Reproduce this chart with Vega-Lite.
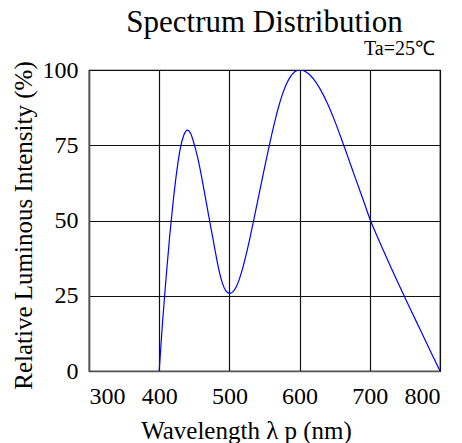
{
  "$schema": "https://vega.github.io/schema/vega-lite/v6.json",
  "width": 351,
  "height": 301,
  "autosize": {"type": "none"},
  "padding": {"left": 89, "top": 70, "right": 22, "bottom": 72},
  "background": "white",
  "config": {
    "font": "Liberation Serif",
    "view": {"stroke": "#000", "strokeWidth": 1.2},
    "title": {"font": "Liberation Serif", "fontSize": 31, "fontWeight": "normal", "color": "#000", "baseline": "alphabetic", "frame": "group"},
    "axis": {
      "labelFont": "Liberation Serif",
      "titleFont": "Liberation Serif",
      "labelColor": "#000",
      "titleColor": "#000",
      "titleFontWeight": "normal",
      "grid": true,
      "gridColor": "#111",
      "gridWidth": 1.2,
      "gridOpacity": 1,
      "ticks": false,
      "domainColor": "#555",
      "domainWidth": 1.5
    }
  },
  "title": {"text": "Spectrum Distribution", "anchor": "middle", "offset": 0, "frame": "group"},
  "layer": [
    {
      "data": {"values": [
        {"wl": 400, "v": 0}, {"wl": 405, "v": 17}, {"wl": 410, "v": 31.5}, {"wl": 415, "v": 45},
        {"wl": 420, "v": 56.5}, {"wl": 425, "v": 66.3}, {"wl": 430, "v": 73.9}, {"wl": 435, "v": 78.3},
        {"wl": 440, "v": 80}, {"wl": 445, "v": 78.8}, {"wl": 450, "v": 75.2}, {"wl": 455, "v": 70.7},
        {"wl": 460, "v": 65}, {"wl": 465, "v": 58.7}, {"wl": 470, "v": 52.2}, {"wl": 475, "v": 45.9},
        {"wl": 480, "v": 39.6}, {"wl": 485, "v": 33.6}, {"wl": 490, "v": 29.2}, {"wl": 495, "v": 26.6},
        {"wl": 500, "v": 25.8}, {"wl": 505, "v": 26.3}, {"wl": 510, "v": 28.05}, {"wl": 515, "v": 31.1},
        {"wl": 520, "v": 35.1}, {"wl": 525, "v": 39.8}, {"wl": 530, "v": 45}, {"wl": 535, "v": 50.5},
        {"wl": 540, "v": 56.15}, {"wl": 545, "v": 61.85}, {"wl": 550, "v": 67.5}, {"wl": 555, "v": 73},
        {"wl": 560, "v": 78.25}, {"wl": 565, "v": 83.2}, {"wl": 570, "v": 87.7}, {"wl": 575, "v": 91.55},
        {"wl": 580, "v": 94.7}, {"wl": 585, "v": 97.05}, {"wl": 590, "v": 98.7}, {"wl": 595, "v": 99.7},
        {"wl": 600, "v": 100}, {"wl": 610, "v": 99.25}, {"wl": 620, "v": 97}, {"wl": 630, "v": 93.4},
        {"wl": 640, "v": 88.7}, {"wl": 650, "v": 83.1}, {"wl": 660, "v": 76.85}, {"wl": 670, "v": 70.3},
        {"wl": 680, "v": 63.75}, {"wl": 690, "v": 57.25}, {"wl": 700, "v": 50.6}, {"wl": 710, "v": 45},
        {"wl": 720, "v": 39.7}, {"wl": 730, "v": 34.5}, {"wl": 740, "v": 29.4}, {"wl": 750, "v": 24.4},
        {"wl": 760, "v": 19.5}, {"wl": 770, "v": 14.6}, {"wl": 780, "v": 9.7}, {"wl": 790, "v": 4.85},
        {"wl": 800, "v": 0}
      ]},
      "mark": {"type": "line", "color": "#0000ff", "strokeWidth": 1.2, "interpolate": "monotone", "clip": true},
      "encoding": {
        "x": {
          "field": "wl", "type": "quantitative",
          "scale": {"domain": [300, 800], "nice": false},
          "axis": {"values": [300, 400, 500, 600, 700, 800], "labelFontSize": 24, "labelPadding": 13,
                   "title": "Wavelength  λ p (nm)", "titleFontSize": 25, "titleX": 157, "titleY": 67,
                   "titleAlign": "center", "titleBaseline": "alphabetic"}
        },
        "y": {
          "field": "v", "type": "quantitative",
          "scale": {"domain": [0, 100], "nice": false},
          "axis": {"values": [0, 25, 50, 75, 100], "labelFontSize": 24, "labelPadding": 11,
                   "title": "Relative Luminous Intensity (%)", "titleFontSize": 25, "titleX": -58, "titleY": 155,
                   "titleAlign": "center", "titleBaseline": "alphabetic", "titleAngle": -90}
        }
      }
    },
    {
      "data": {"values": [{"wl": 800, "v": 100, "label": "Ta=25℃"}]},
      "mark": {"type": "text", "align": "right", "baseline": "alphabetic", "dx": -5, "dy": -15, "fontSize": 20, "font": "Liberation Serif", "color": "#000"},
      "encoding": {
        "x": {"field": "wl", "type": "quantitative"},
        "y": {"field": "v", "type": "quantitative"},
        "text": {"field": "label"}
      }
    }
  ]
}
